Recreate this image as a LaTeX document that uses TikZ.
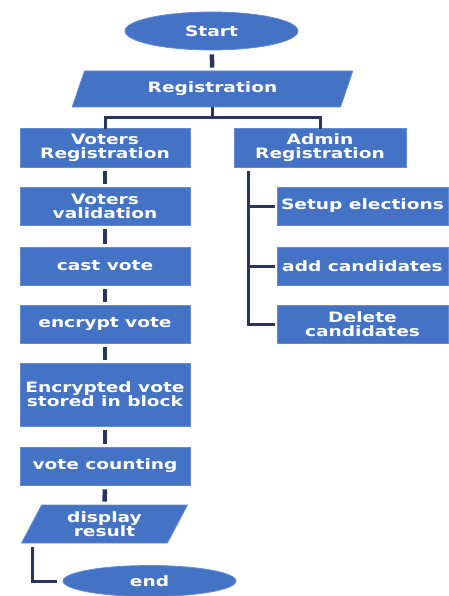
\documentclass[tikz,border=0pt]{standalone}
\usepackage{fontspec}
\usepackage{xcolor}
\usepackage{tikz}
\usetikzlibrary{shapes.geometric}

\newfontfamily\boxfont[FakeStretch=1.3]{DejaVu Sans}
\definecolor{boxblue}{RGB}{68,114,196}
\definecolor{rimblue}{RGB}{98,140,214}
\definecolor{linkblue}{RGB}{40,54,94}

\tikzset{
  stepbox/.style={rectangle, fill=boxblue, draw=rimblue, line width=0.8pt,
    align=center, text=white, inner sep=0pt,
    font=\boxfont\bfseries\fontsize{14.3}{14}\selectfont},
  ovalbox/.style={stepbox, ellipse},
  iobox/.style={stepbox, trapezium, trapezium left angle=66, trapezium right angle=114,
    trapezium stretches=true},
  link/.style={linkblue, line width=3pt},
  stub/.style={linkblue, line width=4.5pt, shorten >=3pt, shorten <=4pt}
}

\begin{document}
\begin{tikzpicture}[x=1pt, y=-1pt]
        \useasboundingbox (0,0) rectangle (448,596);
        % Start and registration
        \node [ovalbox, minimum width=173, minimum height=38] (start) at (211.5,31) {Start};
        \node [iobox, minimum width=281, minimum height=36] (reg) at (212.5,89) {Registration};
        \draw [stub] (start) -- (reg);
        % Two branches
        \node [stepbox, minimum width=170, minimum height=39] (vreg) at (105,147.5) {Voters\\Registration};
        \node [stepbox, minimum width=172, minimum height=39] (areg) at (320,147.5) {Admin\\Registration};
        \draw [link] (reg.south) -- ++(0,10) -| ([yshift=-1pt]vreg.north);
        \draw [link] (reg.south) -- ++(0,10) -| ([yshift=-1pt]areg.north);
        % Voters column
        \node [stepbox, minimum width=170, minimum height=38] (vval) at (105,206) {Voters\\validation};
        \node [stepbox, minimum width=170, minimum height=38] (cast) at (105,266) {cast vote};
        \node [stepbox, minimum width=170, minimum height=38] (encr) at (105,324) {encrypt vote};
        \node [stepbox, minimum width=170, minimum height=63] (store) at (105,394.5) {Encrypted vote\\stored in block};
        \node [stepbox, minimum width=170, minimum height=38] (count) at (105,466) {vote counting};
        \node [iobox, minimum width=167, minimum height=38, trapezium left angle=64.6,
          trapezium right angle=115.4] (disp) at (104.5,524) {display\\result};
        \node [ovalbox, minimum width=173, minimum height=31] (end) at (149.5,581) {end};
        \draw [stub] (vreg) -- (vval);
        \draw [stub] (vval) -- (cast);
        \draw [stub] (cast) -- (encr);
        \draw [stub] (encr) -- (store);
        \draw [stub] (store) -- (count);
        \draw [stub] (count.south) -- (disp.north);
        \draw [link] ([xshift=12pt,yshift=-4pt]disp.bottom left corner) |- ([xshift=-6pt]end.west);
        % Admin column
        \node [stepbox, minimum width=171, minimum height=38] (setup) at (362.5,206) {Setup elections};
        \node [stepbox, minimum width=171, minimum height=38] (addc) at (362.5,266) {add candidates};
        \node [stepbox, minimum width=171, minimum height=38] (delc) at (362.5,324) {Delete\\candidates};
        \coordinate (trunk) at (248,171);
        \draw [link] (trunk) |- ([xshift=-2pt]delc.west);
        \draw [link] (trunk |- setup.west) -- ([xshift=-2pt]setup.west);
        \draw [link] (trunk |- addc.west) -- ([xshift=-2pt]addc.west);
    \end{tikzpicture}
\end{document}
